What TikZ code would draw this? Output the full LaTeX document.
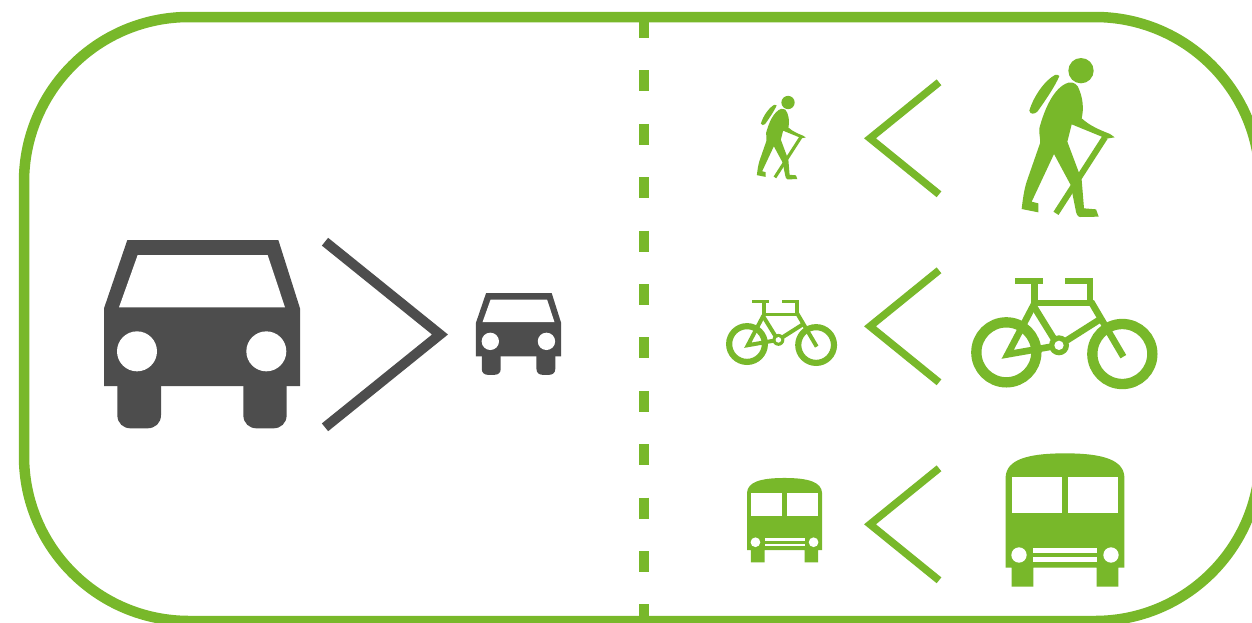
\documentclass[tikz,border=0pt]{standalone}
\definecolor{leaf}{HTML}{78B82A}
\definecolor{slate}{HTML}{4D4D4D}
\tikzset{
  frameline/.style={draw=leaf,line width=10.5pt},
  divider/.style={draw=leaf,line width=10.5pt,dash pattern=on 21pt off 32.4pt},
  bigchevron/.style={draw=slate,line width=10pt,miter limit=10},
  chevron/.style={draw=leaf,line width=7.5pt,miter limit=10},
  hole/.style={fill=white},
}
% every icon is drawn in the 3x zoom grid: #1 shift, #2 scale
\newcommand{\carIcon}[2]{%
\begin{scope}[shift={#1},scale=#2]
  \fill[slate] (112,45) -- (565,45) -- (630,250) -- (630,483) -- (42,483) -- (42,250) -- cycle;
  \fill[slate] (82,470) -- (213,470) -- (213,570) .. controls (213,595) and (195,610) .. (172,610) -- (122,610) .. controls (100,610) and (82,595) .. (82,570) -- cycle;
  \fill[slate] (460,470) -- (590,470) -- (590,570) .. controls (590,595) and (572,610) .. (550,610) -- (500,610) .. controls (478,610) and (460,595) .. (460,570) -- cycle;
  \fill[hole] (143,90) -- (533,90) -- (585,247) -- (87,247) -- cycle;
  \fill[hole] (141,379) circle[radius=60];
  \fill[hole] (529,379) circle[radius=60];
\end{scope}}
\newcommand{\hikerIcon}[2]{%
\begin{scope}[shift={#1},scale=#2]
  \fill[leaf] (243,92) circle[radius=38];
  \fill[leaf] (165,105) .. controls (135,120) and (100,170) .. (88,212) .. controls (90,225) and (105,222) .. (112,215) .. controls (130,190) and (165,140) .. (178,108) .. controls (176,104) and (170,104) .. (165,105) -- cycle;
  \fill[leaf] (205,128) .. controls (222,124) and (234,135) .. (238,150)
     .. controls (248,175) and (252,205) .. (245,235)
     .. controls (270,258) and (300,270) .. (330,282) -- (344,292) -- (320,296) -- (215,253) -- (202,305) -- (245,420) -- (252,505) -- (288,508) -- (296,530) -- (240,531) .. controls (232,530) and (228,520) .. (226,505) -- (212,435) -- (162,342) -- (95,485) -- (115,490) -- (115,517) -- (65,507)
     .. controls (68,480) and (72,450) .. (80,425) -- (120,310)
     .. controls (122,295) and (116,280) .. (118,265)
     .. controls (132,212) and (160,142) .. (205,128) -- cycle;
  \draw[leaf,line width={(#2)*18pt}] (315,292) -- (168,520);
\end{scope}}
\newcommand{\bikeIcon}[2]{%
\begin{scope}[shift={#1},scale=#2]
  \draw[leaf,line width={(#2)*31pt}] (139,262) circle[radius=90];
  \draw[leaf,line width={(#2)*31pt}] (487,267) circle[radius=90];
  \fill[leaf] (165,40) rectangle (250,57);
  \fill[leaf] (213,40) rectangle (233,122);
  \fill[leaf] (315,40) rectangle (400,57);
  \fill[leaf] (380,40) rectangle (400,122);
  \fill[leaf] (213,105) rectangle (400,122);
  \draw[leaf,line width={(#2)*20pt},line join=miter,miter limit=10]
     (222,118) -- (143,268) -- (297,241) -- (420,163);
  \draw[leaf,line width={(#2)*20pt}] (222,125) -- (290,235);
  \draw[leaf,line width={(#2)*20pt}] (393,110) -- (490,275);
  \fill[leaf] (297,241) circle[radius=30];
  \fill[hole] (297,241) circle[radius=14];
\end{scope}}
\newcommand{\busIcon}[2]{%
\begin{scope}[shift={#1},scale=#2]
  \fill[leaf] (47,95) .. controls (50,45) and (110,25) .. (225,25) .. controls (340,25) and (400,45) .. (403,95) -- (403,368) -- (385,368) -- (385,425) -- (320,425) -- (320,368) -- (130,368) -- (130,425) -- (65,425) -- (65,368) -- (47,368) -- cycle;
  \fill[hole] (65,97) rectangle (215,205);
  \fill[hole] (235,97) rectangle (385,205);
  \fill[hole] (87,330) circle[radius=23];
  \fill[hole] (363,330) circle[radius=23];
  \fill[hole] (130,310) rectangle (320,323);
  \fill[hole] (130,337) rectangle (320,350);
\end{scope}}
\begin{document}
\begin{tikzpicture}[x=1pt,y=-1pt]
  \path[use as bounding box,clip] (0,0) rectangle (1252,622);
  \fill[white] (0,0) rectangle (1252,622);
  % frame and divider
  \draw[frameline,rounded corners=165pt] (24,17) rectangle (1260,621);
  \draw[divider] (644,17) -- (644,621);
  % left: car > small car
  \carIcon{(90,225)}{0.33333}
  \draw[bigchevron] (325,241.7) -- (440,334.5) -- (325,427.3);
  \carIcon{(469.9,286.5)}{0.1447}
  % right column
  \hikerIcon{(745.5,86.4)}{0.175}
  \draw[chevron] (939,82.3) -- (870,138.3) -- (939,194.3);
  \hikerIcon{(1000,40)}{0.33333}
  \bikeIcon{(719.4,292)}{0.1986}
  \draw[chevron] (939,270.3) -- (870,326.3) -- (939,382.3);
  \bikeIcon{(960,265)}{0.33333}
  \busIcon{(737.1,472.7)}{0.2107}
  \draw[chevron] (939,468.3) -- (870,524.3) -- (939,580.3);
  \busIcon{(990,445)}{0.33333}
\end{tikzpicture}
\end{document}
